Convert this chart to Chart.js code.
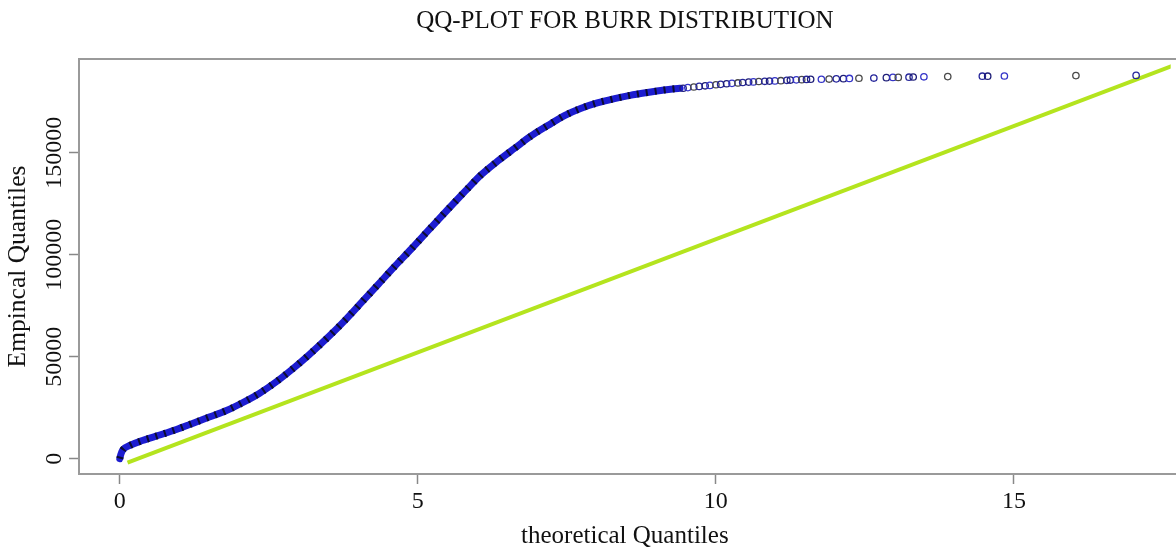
<!DOCTYPE html>
<html>
<head>
<meta charset="utf-8">
<script src="https://cdn.jsdelivr.net/npm/chart.js@4.4.1/dist/chart.umd.min.js"></script>
<style>
  html, body { margin: 0; padding: 0; background: #fff; }
  #wrap { width: 1176px; height: 551px; overflow: hidden; }
</style>
</head>
<body>
<div id="wrap"><canvas id="qq" width="1176" height="551"></canvas></div>
<script>
// tick labels
const xTicks = [0, 5, 10, 15];
const yTicks = [0, 50000, 100000, 150000];

// dense part of the sample quantiles (points overlap into a band)
const denseX = [0, 0.02, 0.05, 0.17, 0.38, 0.67, 0.95, 1.22, 1.50, 1.79, 2.05, 2.34,
  2.62, 2.89, 3.17, 3.51, 3.79, 4.06, 4.34, 4.62, 4.89, 5.23, 5.51, 5.79,
  6.06, 6.34, 6.63, 6.90, 7.18, 7.46, 7.73, 8.01, 8.30, 8.56, 8.85, 9.13, 9.40];
const denseY = [0, 2300, 4300, 6500, 8900, 11600, 14300, 17300, 20400, 23600, 27300, 32000,
  37600, 43800, 50800, 60000, 68200, 76700, 85600, 94500, 102800, 113600, 122400, 131000,
  139100, 145900, 152300, 158200, 163300, 168200, 171700, 174400, 176500, 178100, 179500, 180700, 181600];

// upper tail, individual open circles
const tailX = [9.45, 9.53, 9.63, 9.72, 9.82, 9.90, 10.00, 10.08, 10.18, 10.27, 10.37, 10.45,
  10.55, 10.63, 10.72, 10.82, 10.90, 10.99, 11.09, 11.19, 11.25, 11.35, 11.44, 11.52,
  11.59, 11.77, 11.90, 12.02, 12.14, 12.24, 12.40, 12.65, 12.86, 12.97, 13.06, 13.24,
  13.31, 13.49, 13.89, 14.47, 14.56, 14.84, 16.04, 17.05];
const tailY = [181600, 181900, 182200, 182500, 182800, 183000, 183300, 183500, 183800, 184000, 184200, 184400,
  184600, 184700, 184900, 185000, 185100, 185200, 185300, 185500, 185600, 185700, 185800, 185900,
  186000, 186000, 186100, 186200, 186300, 186400, 186500, 186600, 186800, 186900, 186900, 187000,
  187100, 187200, 187300, 187500, 187500, 187600, 187800, 187900];

// reference line
const refX = [0.13, 17.8];
const refY = [-1960, 194200];

const serif = '"Liberation Serif", "DejaVu Serif", serif';
const toPts = (xs, ys) => xs.map((x, i) => ({ x: x, y: ys[i] }));
const tailColors = ['#1e1e78', '#3434c8', '#4a4a4a', '#26269a'];

// R style box + rotated y labels
const rFrame = {
  id: 'rFrame',
  beforeDatasetsDraw(chart) {
    const { ctx, chartArea: a, scales: { y } } = chart;
    ctx.save();
    ctx.strokeStyle = '#9a9a9a';
    ctx.lineWidth = 2;
    ctx.beginPath();
    ctx.moveTo(a.right + 20, a.top);
    ctx.lineTo(a.left, a.top);
    ctx.lineTo(a.left, a.bottom);
    ctx.lineTo(a.right + 20, a.bottom);
    ctx.stroke();

    ctx.fillStyle = '#111';
    ctx.font = '24px ' + serif;
    ctx.textAlign = 'center';
    ctx.textBaseline = 'middle';
    yTicks.forEach(v => {
      ctx.save();
      ctx.translate(a.left - 24, y.getPixelForValue(v));
      ctx.rotate(-Math.PI / 2);
      ctx.fillText(String(v), 0, 0);
      ctx.restore();
    });
    ctx.restore();
  }
};

new Chart(document.getElementById('qq'), {
  type: 'scatter',
  data: {
    datasets: [
      {
        data: toPts(tailX, tailY),
        showLine: false,
        pointRadius: 3.2,
        pointBorderWidth: 1.3,
        pointBackgroundColor: 'rgba(0,0,0,0)',
        pointBorderColor: ctx => tailColors[ctx.dataIndex % tailColors.length]
      },
      {
        data: toPts(denseX, denseY),
        showLine: true,
        pointRadius: 0,
        borderColor: '#0c0c30',
        borderWidth: 7,
        borderDash: [2, 7],
        cubicInterpolationMode: 'monotone'
      },
      {
        data: toPts(denseX, denseY),
        showLine: true,
        pointRadius: 0,
        borderColor: '#1c1cd0',
        borderWidth: 7,
        borderCapStyle: 'round',
        cubicInterpolationMode: 'monotone'
      },
      {
        data: toPts(refX, refY),
        showLine: true,
        pointRadius: 0,
        borderColor: '#b4e41e',
        borderWidth: 4
      }
    ]
  },
  options: {
    responsive: false,
    animation: false,
    devicePixelRatio: 1,
    layout: { padding: 0 },
    plugins: {
      legend: { display: false },
      tooltip: { enabled: false },
      title: {
        display: true,
        text: 'QQ-PLOT FOR BURR DISTRIBUTION',
        fullSize: false,
        color: '#111',
        font: { family: serif, size: 25, weight: 'normal' },
        padding: { top: 6, bottom: 23 }
      }
    },
    scales: {
      x: {
        type: 'linear',
        min: -0.684,
        max: 17.63,
        afterBuildTicks: s => { s.ticks = xTicks.map(v => ({ value: v })); },
        afterFit: s => { s.height = 77; },
        border: { display: false },
        grid: { drawOnChartArea: false, drawTicks: true, tickLength: 10, tickColor: '#888', tickWidth: 1.5 },
        ticks: { color: '#111', padding: 3, maxRotation: 0, font: { family: serif, size: 24 } },
        title: {
          display: true,
          text: 'theoretical Quantiles',
          color: '#111',
          font: { family: serif, size: 25 },
          padding: { top: 0, bottom: 0 }
        }
      },
      y: {
        type: 'linear',
        min: -7500,
        max: 195930,
        afterBuildTicks: s => { s.ticks = yTicks.map(v => ({ value: v })); },
        afterFit: s => { s.width = 79; },
        border: { display: false },
        grid: { drawOnChartArea: false, drawTicks: true, tickLength: 10, tickColor: '#888', tickWidth: 1.5 },
        ticks: { display: false },
        title: {
          display: true,
          text: 'Empincal Quantiles',
          color: '#111',
          font: { family: serif, size: 25.5 },
          padding: { top: 3, bottom: 0 }
        }
      }
    }
  },
  plugins: [rFrame]
});
</script>
</body>
</html>
